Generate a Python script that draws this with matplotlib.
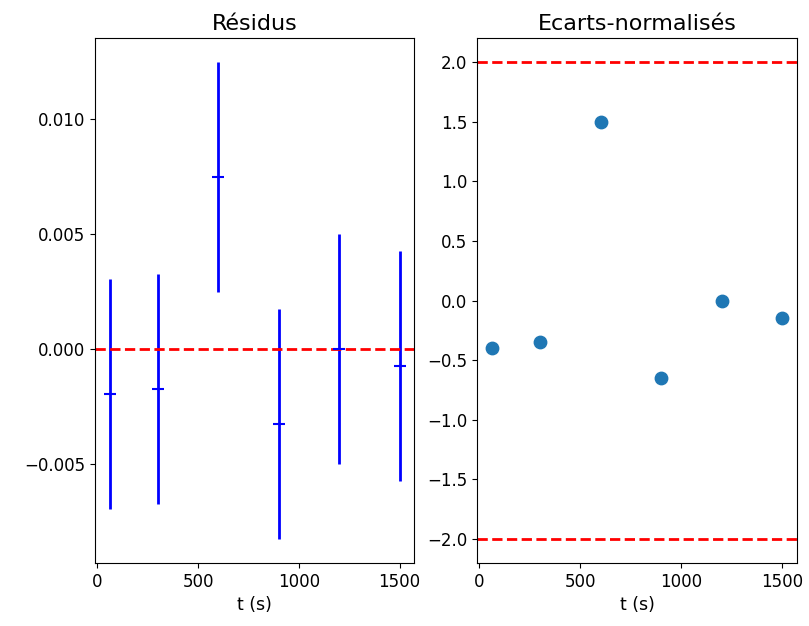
import matplotlib
matplotlib.use("Agg")
import matplotlib.pyplot as plt

# Données
t = [60, 300, 600, 900, 1200, 1500]
residus = [-0.00197, -0.00175, 0.0075, -0.00328, 0.0, -0.00074]
u_residus = [0.005, 0.005, 0.005, 0.005, 0.005, 0.005]
ecarts = [-0.4, -0.35, 1.5, -0.65, 0.0, -0.15]

fig = plt.figure(figsize=(8.09, 6.26), dpi=100)
ax1 = fig.add_axes([95/809, 1 - 563/626, 319/809, 525/626])
ax2 = fig.add_axes([477/809, 1 - 563/626, 320/809, 525/626])

# Résidus
ax1.errorbar(t, residus, yerr=u_residus, fmt='_', color='blue', ecolor='blue',
             elinewidth=2, markersize=9, markeredgewidth=1.5)
ax1.axhline(0, color='red', linestyle='--', linewidth=2)
ax1.set_title("Résidus", fontsize=16)
ax1.set_xlabel("t (s)", fontsize=12.5)
ax1.tick_params(labelsize=12)

# Ecarts normalisés
ax2.scatter(t, ecarts, s=80)
ax2.axhline(2, color='red', linestyle='--', linewidth=2)
ax2.axhline(-2, color='red', linestyle='--', linewidth=2)
ax2.set_title("Ecarts-normalisés", fontsize=16)
ax2.set_xlabel("t (s)", fontsize=12.5)
ax2.tick_params(labelsize=12)

fig.savefig("out.png", dpi=100)
